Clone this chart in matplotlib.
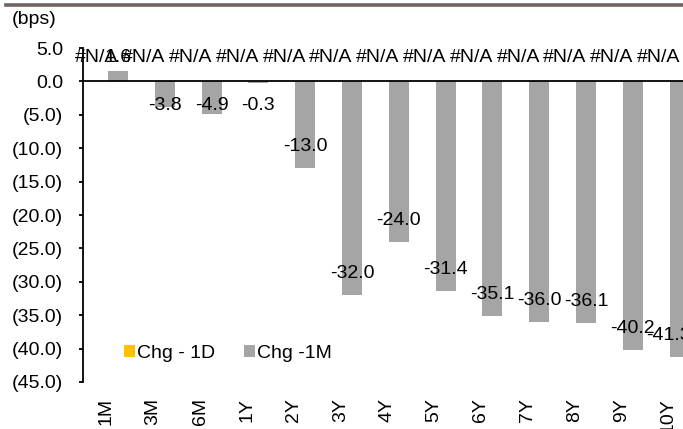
import matplotlib
matplotlib.use('Agg')
import matplotlib.pyplot as plt
from matplotlib.lines import Line2D
from matplotlib.ticker import FuncFormatter
import numpy as np

plt.rcParams['font.family'] = ['Liberation Sans', 'DejaVu Sans']
plt.rcParams['font.size'] = 14

tenors = ['1M', '3M', '6M', '1Y', '2Y', '3Y', '4Y', '5Y', '6Y', '7Y', '8Y', '9Y', '10Y']
chg_1d = [np.nan] * 13   # all #N/A in the source sheet
chg_1m = [1.6, -3.8, -4.9, -0.3, -13.0, -32.0, -24.0, -31.4, -35.1, -36.0, -36.1, -40.2, -41.3]
na_text = '#N/A'

fig = plt.figure(figsize=(6.83, 4.29), dpi=100)
# axes runs a little past the right edge, like the cropped original
ax = fig.add_axes([83 / 683, 1 - 382 / 429, 608.4 / 683, 334 / 429])

x = np.arange(len(tenors))
w = 0.427
ax.bar(x - 0.2, np.nan_to_num(chg_1d), w, color='#FFC000', label='Chg - 1D')
ax.bar(x + 0.248, chg_1m, w, color='#A5A5A5', label='Chg -1M')

# data labels
n = len(chg_1m)
for i, v in enumerate(chg_1m):
    if v >= 0:
        ly = v + 2.0
    else:
        ly = min(v + 3.2, -3.6)
    # excel pulls the last label back inside the chart area
    lx = i + 0.248 if i < n - 1 else i
    ax.text(lx, ly, '%.1f' % v, ha='center', va='center', fontsize=14)
for i, v in enumerate(chg_1d):
    ax.text(i - 0.2, 3.6, na_text, ha='center', va='center', fontsize=14)

ax.set_xlim(-0.5, n - 0.5)
ax.set_ylim(-45, 5)
ax.set_yticks(np.arange(-45, 6, 5))
ax.yaxis.set_major_formatter(FuncFormatter(
    lambda v, p: '(%.1f)' % abs(v) if v < 0 else '%.1f' % v))
ax.set_xticks(x)
ax.set_xticklabels(tenors, rotation=90)
ax.tick_params(axis='x', length=0, pad=11.5)
ax.tick_params(axis='y', direction='out', length=3, width=1.3, pad=11.4)

for s in ['top', 'right', 'bottom']:
    ax.spines[s].set_visible(False)
ax.spines['left'].set_linewidth(1.3)
ax.axhline(0, color='black', lw=1.3)

leg = fig.legend(loc='center left', bbox_to_anchor=(124 / 683, 1 - 353 / 429),
                 ncol=2, frameon=False, handlelength=0.57, handleheight=0.57,
                 handletextpad=0.12, columnspacing=1.45, borderpad=0,
                 borderaxespad=0, fontsize=14)

fig.text(12 / 683, 1 - 20 / 429, '(bps)', ha='left', va='center', fontsize=14)
fig.add_artist(Line2D([6 / 683, 1], [1 - 5 / 429, 1 - 5 / 429],
                      color='#6E6461', lw=2.6, transform=fig.transFigure))

fig.savefig('out.png', dpi=100)
